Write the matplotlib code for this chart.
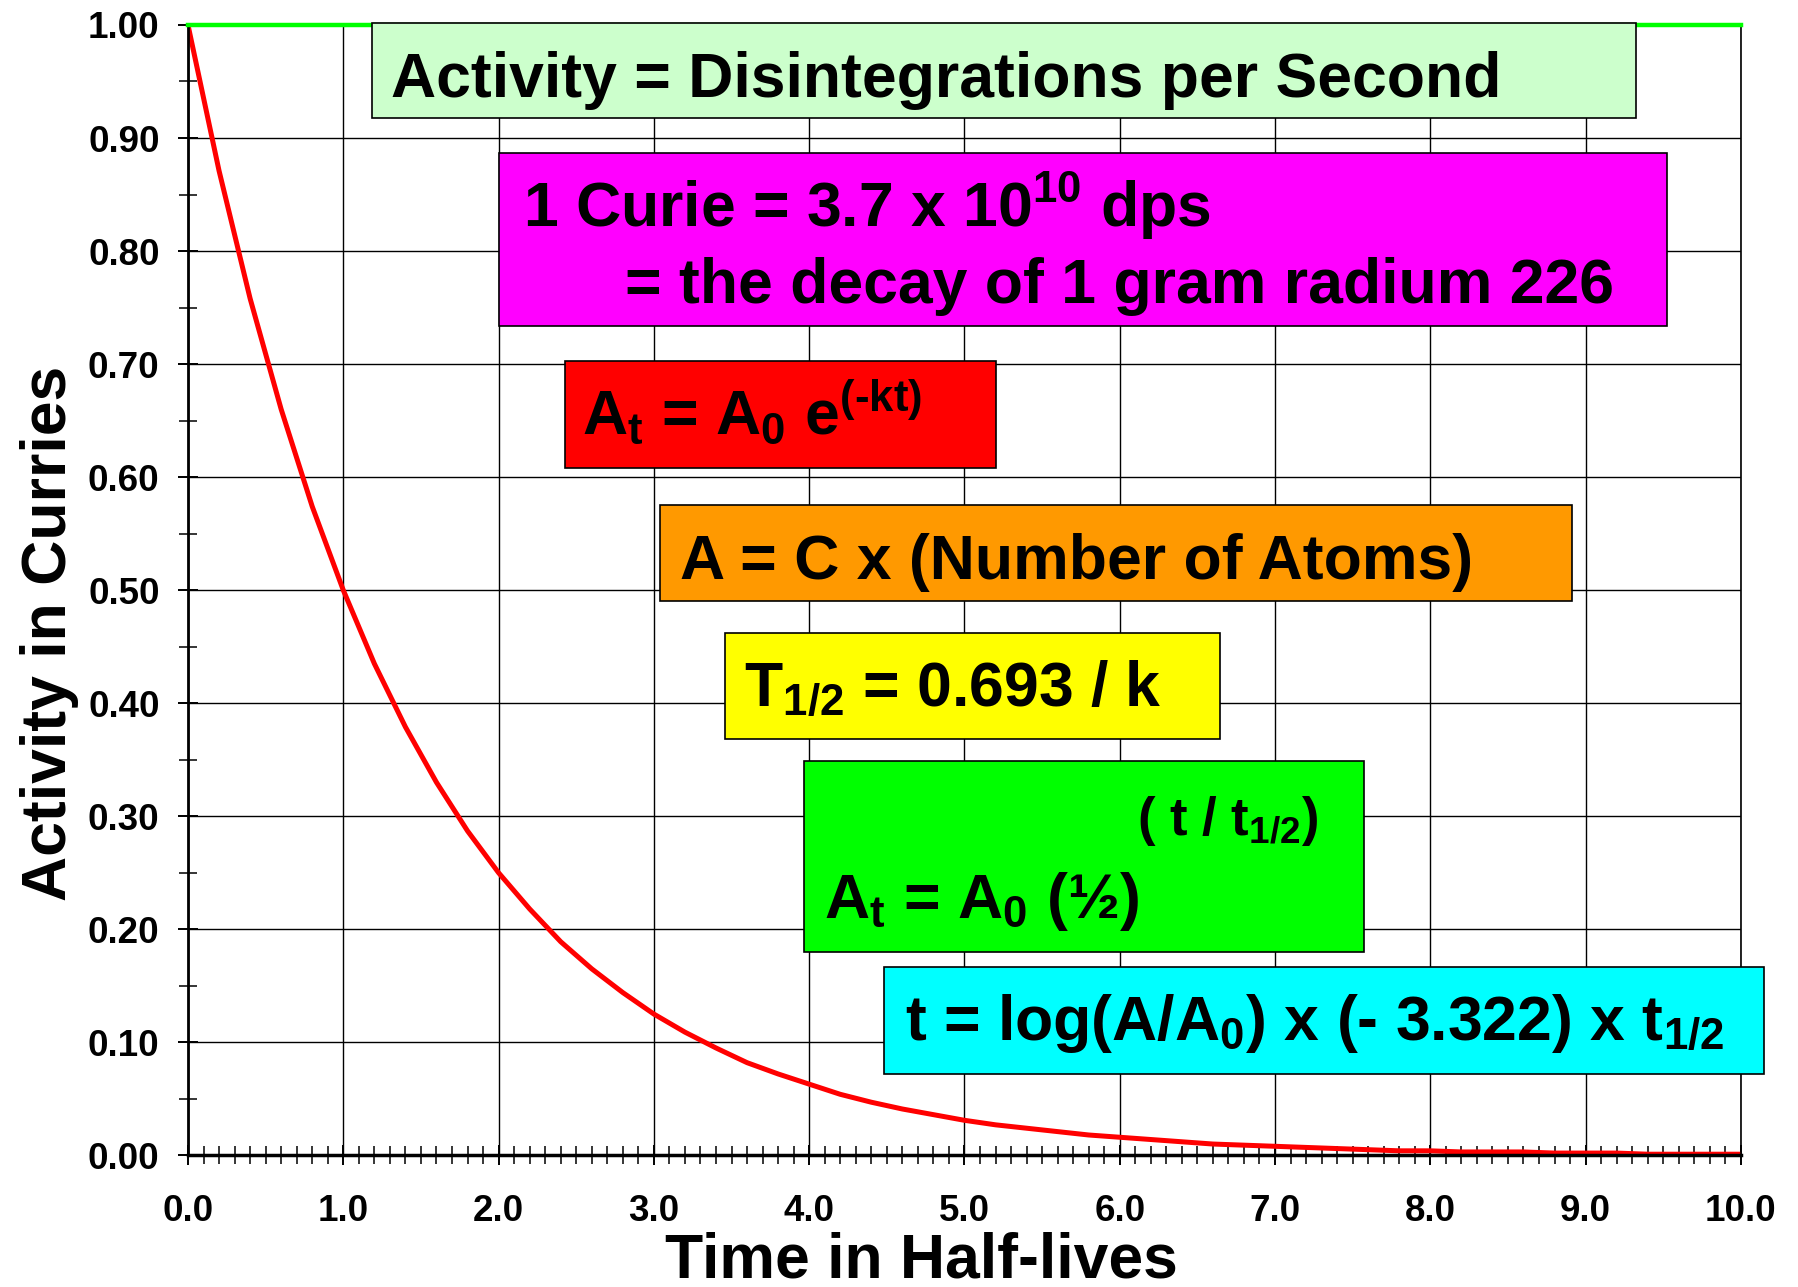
import matplotlib
matplotlib.use('Agg')
import matplotlib.pyplot as plt
from matplotlib.patches import Rectangle
from matplotlib.ticker import MultipleLocator, FormatStrFormatter

plt.rcParams['font.family'] = 'Liberation Sans'
plt.rcParams['font.weight'] = 'bold'
plt.rcParams['mathtext.fontset'] = 'custom'
plt.rcParams['mathtext.rm'] = 'Liberation Sans:bold'
plt.rcParams['mathtext.bf'] = 'Liberation Sans:bold'
plt.rcParams['mathtext.it'] = 'Liberation Sans:bold'
plt.rcParams['mathtext.default'] = 'rm'

# Datos
half_lives = [0.0, 0.2, 0.4, 0.6, 0.8, 1.0, 1.2, 1.4, 1.6, 1.8, 2.0,
              2.2, 2.4, 2.6, 2.8, 3.0, 3.2, 3.4, 3.6, 3.8, 4.0,
              4.2, 4.4, 4.6, 4.8, 5.0, 5.2, 5.4, 5.6, 5.8, 6.0,
              6.2, 6.4, 6.6, 6.8, 7.0, 7.2, 7.4, 7.6, 7.8, 8.0,
              8.2, 8.4, 8.6, 8.8, 9.0, 9.2, 9.4, 9.6, 9.8, 10.0]
activity = [1.000, 0.871, 0.758, 0.660, 0.574, 0.500, 0.435, 0.379, 0.330, 0.287, 0.250,
            0.218, 0.189, 0.165, 0.144, 0.125, 0.109, 0.095, 0.082, 0.072, 0.063,
            0.054, 0.047, 0.041, 0.036, 0.031, 0.027, 0.024, 0.021, 0.018, 0.016,
            0.014, 0.012, 0.010, 0.009, 0.008, 0.007, 0.006, 0.005, 0.004, 0.004,
            0.003, 0.003, 0.003, 0.002, 0.002, 0.002, 0.001, 0.001, 0.001, 0.001]
initial_x = [0.0, 10.0]
initial_activity = [1.0, 1.0]

box_texts = [
    ["Activity = Disintegrations per Second"],
    ["1 Curie = 3.7 x $10^{10}$ dps", "= the decay of 1 gram radium 226"],
    [r"$A_t$ = $A_0$ $e^{(\text{-}kt)}$"],
    ["A = C x (Number of Atoms)"],
    ["$T_{1/2}$ = 0.693 / k"],
    ["$A_t$ = $A_0$ (\u00bd)", "( t / $t_{1/2}$)"],
    ["t = log(A/$A_0$) x (- 3.322) x $t_{1/2}$"],
]
box_colors = ['#CCFFCC', '#FF00FF', '#FF0000', '#FF9900', '#FFFF00', '#00FF00', '#00FFFF']

# Posiciones de las cajas (x0, x1, y0, y1) y del texto (x, y, size)
box_pos = [
    (1.185, 9.324, 0.9175, 1.002),
    (2.005, 9.527, 0.7337, 0.8865),
    (2.426, 5.201, 0.6084, 0.7028),
    (3.039, 8.912, 0.4907, 0.5754),
    (3.455, 6.645, 0.3681, 0.4619),
    (3.967, 7.573, 0.1802, 0.3489),
    (4.482, 10.146, 0.0723, 0.1669),
]
text_pos = [
    [(1.307, 0.9363, 45)],
    [(2.160, 0.8216, 45), (2.814, 0.7543, 45)],
    [(2.540, 0.6382, 45)],
    [(3.168, 0.5099, 45)],
    [(3.580, 0.3964, 45)],
    [(4.095, 0.2100, 45), (6.108, 0.2834, 38)],
    [(4.614, 0.1021, 45)],
]

fig = plt.figure(figsize=(17.99, 12.87), dpi=100)
ax = fig.add_axes([0.1045, 0.1023, 0.8632, 0.8783])

ax.plot(half_lives, activity, color='#FF0000', linewidth=3.6, zorder=2.5)
ax.plot(initial_x, initial_activity, color='#00FF00', linewidth=3.2, zorder=2.6, clip_on=False)

ax.set_xlim(0, 10)
ax.set_ylim(0, 1.0)
ax.xaxis.set_major_locator(MultipleLocator(1.0))
ax.xaxis.set_minor_locator(MultipleLocator(0.1))
ax.yaxis.set_major_locator(MultipleLocator(0.1))
ax.yaxis.set_minor_locator(MultipleLocator(0.05))
ax.xaxis.set_major_formatter(FormatStrFormatter('%.1f'))
ax.yaxis.set_major_formatter(FormatStrFormatter('%.2f'))

ax.tick_params(which='major', direction='inout', length=15, width=1.4, labelsize=26.5, color='black')
ax.tick_params(which='minor', direction='inout', length=13, width=1.1)
ax.tick_params(axis='x', which='major', pad=20)
ax.tick_params(axis='y', which='major', pad=13)
for lab in ax.get_xticklabels() + ax.get_yticklabels():
    lab.set_fontweight('bold')

ax.grid(True, which='major', color='black', linewidth=1.0, zorder=1)
ax.set_axisbelow(True)

ax.spines['top'].set_visible(False)
ax.spines['left'].set_linewidth(2.0)
ax.spines['bottom'].set_linewidth(2.5)
ax.spines['right'].set_linewidth(1.2)

ax.set_xlabel('Time in Half-lives', fontsize=45, fontweight='bold')
ax.xaxis.label.set_va('baseline')
ax.xaxis.set_label_coords(0.472, -0.108)
ax.set_ylabel('Activity in Curries', fontsize=45, fontweight='bold')
ax.yaxis.label.set_va('baseline')
ax.yaxis.set_label_coords(-0.0786, 0.462)

for texts, color, (x0, x1, y0, y1), tps in zip(box_texts, box_colors, box_pos, text_pos):
    rect = Rectangle((x0, y0), x1 - x0, y1 - y0, facecolor=color, edgecolor='black',
                     linewidth=1.2, zorder=3, clip_on=False)
    ax.add_patch(rect)
    for t, (tx, ty, fs) in zip(texts, tps):
        ax.text(tx, ty, t, fontsize=fs, fontweight='bold', ha='left', va='baseline',
                zorder=4, clip_on=False)

fig.savefig('out.png', dpi=100)
